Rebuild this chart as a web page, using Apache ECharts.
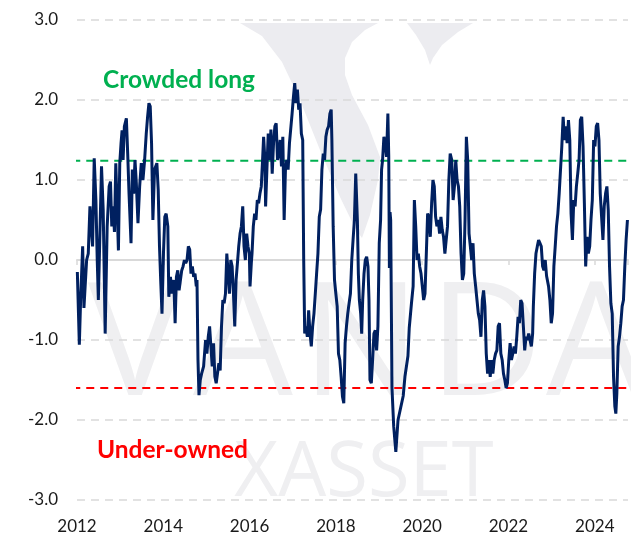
<!DOCTYPE html>
<html>
<head>
<meta charset="utf-8">
<script src="https://cdn.jsdelivr.net/npm/echarts@6/dist/echarts.min.js"></script>
<style>
  html, body { margin: 0; padding: 0; background: #fff; }
  #chart { width: 631px; height: 537px; }
</style>
</head>
<body>
<div id="chart"></div>
<script>
// positioning score (decimal year, z-score)
const dates = [
  2012.008, 2012.054, 2012.084, 2012.131, 2012.161, 2012.223, 2012.261, 2012.300, 2012.338, 2012.361,
  2012.399, 2012.438, 2012.469, 2012.495, 2012.568, 2012.607, 2012.653, 2012.699, 2012.745, 2012.776,
  2012.806, 2012.837, 2012.868, 2012.899, 2012.929, 2012.960, 2012.991, 2013.021, 2013.045, 2013.068,
  2013.098, 2013.144, 2013.175, 2013.206, 2013.252, 2013.283, 2013.313, 2013.344, 2013.375, 2013.413,
  2013.452, 2013.490, 2013.528, 2013.567, 2013.605, 2013.636, 2013.667, 2013.697, 2013.728, 2013.759,
  2013.797, 2013.851, 2013.882, 2013.912, 2013.943, 2013.970, 2014.005, 2014.035, 2014.066, 2014.105,
  2014.128, 2014.166, 2014.197, 2014.243, 2014.274, 2014.304, 2014.335, 2014.366, 2014.397, 2014.427,
  2014.458, 2014.489, 2014.520, 2014.550, 2014.581, 2014.612, 2014.642, 2014.673, 2014.704, 2014.735,
  2014.765, 2014.781, 2014.804, 2014.827, 2014.857, 2014.888, 2014.934, 2014.980, 2015.011, 2015.042,
  2015.073, 2015.103, 2015.134, 2015.165, 2015.195, 2015.226, 2015.257, 2015.288, 2015.318, 2015.349,
  2015.380, 2015.410, 2015.441, 2015.472, 2015.503, 2015.533, 2015.564, 2015.595, 2015.626, 2015.656,
  2015.687, 2015.718, 2015.748, 2015.779, 2015.810, 2015.841, 2015.871, 2015.902, 2015.933, 2015.963,
  2015.994, 2016.010, 2016.040, 2016.056, 2016.086, 2016.117, 2016.148, 2016.179, 2016.209, 2016.240,
  2016.271, 2016.301, 2016.325, 2016.355, 2016.371, 2016.401, 2016.432, 2016.463, 2016.494, 2016.524,
  2016.555, 2016.586, 2016.616, 2016.647, 2016.678, 2016.709, 2016.739, 2016.770, 2016.801, 2016.831,
  2016.862, 2016.893, 2016.924, 2016.954, 2016.985, 2017.016, 2017.046, 2017.077, 2017.108, 2017.139,
  2017.169, 2017.200, 2017.231, 2017.254, 2017.277, 2017.308, 2017.338, 2017.369, 2017.400, 2017.430,
  2017.461, 2017.492, 2017.523, 2017.553, 2017.584, 2017.615, 2017.646, 2017.676, 2017.707, 2017.738,
  2017.768, 2017.799, 2017.830, 2017.861, 2017.891, 2017.907, 2017.937, 2017.968, 2017.999, 2018.030,
  2018.060, 2018.091, 2018.122, 2018.153, 2018.183, 2018.214, 2018.245, 2018.275, 2018.306, 2018.337,
  2018.368, 2018.398, 2018.429, 2018.460, 2018.498, 2018.521, 2018.544, 2018.575, 2018.598, 2018.621,
  2018.652, 2018.682, 2018.713, 2018.744, 2018.767, 2018.790, 2018.821, 2018.851, 2018.882, 2018.913,
  2018.944, 2018.974, 2019.005, 2019.036, 2019.059, 2019.082, 2019.113, 2019.143, 2019.174, 2019.205,
  2019.225, 2019.240, 2019.255, 2019.270, 2019.300, 2019.340, 2019.389, 2019.440, 2019.500, 2019.560,
  2019.600, 2019.670, 2019.700, 2019.750, 2019.790, 2019.819, 2019.850, 2019.881, 2019.911, 2019.942,
  2019.973, 2020.003, 2020.034, 2020.065, 2020.096, 2020.126, 2020.157, 2020.188, 2020.219, 2020.249,
  2020.280, 2020.311, 2020.341, 2020.372, 2020.403, 2020.434, 2020.464, 2020.495, 2020.526, 2020.556,
  2020.587, 2020.618, 2020.649, 2020.686, 2020.717, 2020.748, 2020.778, 2020.809, 2020.840, 2020.870,
  2020.901, 2020.932, 2020.963, 2020.993, 2021.024, 2021.055, 2021.086, 2021.116, 2021.147, 2021.178,
  2021.208, 2021.239, 2021.270, 2021.301, 2021.331, 2021.362, 2021.393, 2021.423, 2021.454, 2021.485,
  2021.516, 2021.546, 2021.577, 2021.608, 2021.638, 2021.669, 2021.700, 2021.731, 2021.761, 2021.792,
  2021.823, 2021.854, 2021.884, 2021.915, 2021.946, 2021.976, 2022.007, 2022.038, 2022.069, 2022.099,
  2022.130, 2022.161, 2022.192, 2022.222, 2022.253, 2022.284, 2022.314, 2022.345, 2022.376, 2022.407,
  2022.437, 2022.468, 2022.499, 2022.530, 2022.560, 2022.576, 2022.606, 2022.637, 2022.668, 2022.698,
  2022.729, 2022.760, 2022.791, 2022.821, 2022.852, 2022.883, 2022.929, 2022.960, 2022.991, 2023.021,
  2023.052, 2023.083, 2023.113, 2023.144, 2023.175, 2023.206, 2023.236, 2023.267, 2023.298, 2023.328,
  2023.359, 2023.390, 2023.421, 2023.451, 2023.482, 2023.513, 2023.544, 2023.574, 2023.605, 2023.636,
  2023.666, 2023.697, 2023.728, 2023.759, 2023.789, 2023.820, 2023.851, 2023.882, 2023.912, 2023.943,
  2023.974, 2024.004, 2024.035, 2024.066, 2024.097, 2024.127, 2024.158, 2024.189, 2024.219, 2024.250,
  2024.281, 2024.312, 2024.342, 2024.373, 2024.404, 2024.435, 2024.465, 2024.488, 2024.511, 2024.542,
  2024.573, 2024.604, 2024.634, 2024.665, 2024.696, 2024.726, 2024.757
];
const scores = [
  -0.15, -1.06, -0.50, 0.17, -0.60, 0.00, 0.08, 0.67, 0.69, 0.17,
  1.27, 0.75, 0.00, -0.50, 1.17, 0.63, -0.92, 0.42, 0.92, 0.98,
  0.42, 0.67, 0.35, 1.21, 0.67, 0.12, 1.21, 1.46, 1.62, 1.25,
  1.67, 1.77, 1.33, 0.83, 0.21, 1.13, 0.83, 1.25, 0.96, 0.46,
  0.92, 1.21, 1.00, 1.25, 1.58, 1.79, 1.96, 1.92, 1.46, 0.50,
  1.13, 1.21, 0.88, 0.17, -0.30, -0.67, 0.10, 0.54, 0.58, 0.42,
  -0.46, -0.21, -0.42, -0.25, -0.79, -0.21, -0.13, -0.38, -0.25, -0.13,
  -0.08, 0.00, -0.04, 0.00, 0.17, 0.13, -0.17, -0.08, -0.21, -0.17,
  -0.33, -0.25, -1.25, -1.69, -1.50, -1.42, -1.33, -1.00, -1.17, -0.96,
  -0.83, -1.08, -1.33, -1.04, -1.46, -1.54, -1.56, -1.29, -1.38, -0.83,
  -0.50, -0.54, -0.42, 0.08, -0.17, -0.42, 0.00, -0.08, -0.42, -0.83,
  -0.25, -0.04, 0.17, 0.33, 0.42, 0.67, 0.17, 0.00, 0.33, 0.17,
  0.08, -0.33, -0.04, 0.08, 0.42, 0.58, 0.50, 0.75, 0.71, 0.83,
  0.92, 1.25, 1.54, 1.25, 0.67, 1.13, 1.58, 1.25, 1.63, 1.08,
  1.46, 1.67, 1.71, 1.25, 1.33, 1.50, 1.17, 1.54, 0.50, 1.13,
  1.25, 1.13, 1.46, 1.46, 1.83, 2.04, 2.21, 1.96, 2.13, 1.88,
  1.96, 1.58, 1.50, 0.00, -0.92, -0.83, -0.96, -0.63, -0.92, -1.08,
  -0.83, -0.67, -0.42, -0.17, 0.08, 0.54, 0.63, 1.13, 1.33, 1.25,
  1.54, 1.63, 1.67, 1.83, 1.88, 1.50, 0.42, -0.25, -0.42, -0.58,
  -1.17, -1.25, -1.46, -1.71, -1.79, -1.04, -0.83, -0.67, -0.54, -0.42,
  0.00, 0.25, 0.50, 1.08, 0.50, -0.17, -0.50, -0.67, -0.92, -0.50,
  -0.17, 0.00, 0.04, -0.08, -0.50, -1.50, -1.54, -1.25, -0.92, -0.88,
  -1.13, -0.83, 0.21, 0.50, 1.13, 1.25, 1.54, 1.46, 1.29, 1.83,
  1.30, -0.10, 0.60, 0.50, -1.60, -2.08, -2.40, -2.00, -1.85, -1.70,
  -1.46, -1.20, -0.85, -0.55, -0.33, 0.75, 0.42, 0.00, 0.08, -0.08,
  -0.17, -0.33, -0.50, -0.42, 0.08, 0.58, 0.54, 0.29, 0.71, 1.00,
  0.92, 0.54, 0.42, 0.50, 0.33, 0.54, 0.38, 0.29, 0.08, 0.25,
  0.42, 1.00, 1.33, 1.25, 0.75, 0.92, 1.25, 1.00, 0.92, 0.67,
  0.08, -0.25, -0.17, 0.50, 1.54, 1.25, 0.33, 0.17, 0.00, 0.21,
  -0.17, -0.33, -0.50, -0.67, -0.75, -0.96, -0.50, -0.38, -0.58, -1.17,
  -1.42, -1.25, -1.46, -1.25, -1.42, -1.25, -1.17, -1.13, -0.83, -0.79,
  -1.17, -1.25, -1.42, -1.50, -1.60, -1.54, -1.25, -1.04, -1.25, -1.17,
  -1.08, -1.17, -0.96, -0.71, -0.79, -0.50, -0.54, -0.83, -1.13, -0.96,
  -1.00, -0.92, -1.00, -1.08, -0.92, -0.58, -0.17, 0.08, 0.17, 0.25,
  0.21, 0.17, -0.08, -0.13, 0.00, -0.20, -0.33, -0.50, -0.79, -0.67,
  -0.08, 0.17, 0.42, 0.58, 0.83, 1.13, 1.42, 1.79, 1.50, 1.67,
  1.46, 1.75, 1.50, 0.58, 0.25, 0.75, 0.67, 0.92, 1.08, 1.25,
  1.75, 1.79, 1.42, 0.71, -0.08, 0.29, 0.08, 0.17, 0.50, 0.75,
  1.50, 1.42, 1.67, 1.71, 1.50, 0.83, 0.54, 0.25, 0.67, 0.83,
  0.92, 0.63, -0.08, -0.54, -0.67, -1.46, -1.83, -1.92, -1.67, -1.08,
  -0.96, -0.79, -0.58, -0.50, -0.08, 0.25, 0.50
];
const crowdedLong = 1.24;
const underOwned = -1.6;
const xStart = 2012;
const xEnd = 2024.77;

const chart = echarts.init(document.getElementById('chart'));
const font = 'Lato, "Open Sans", sans-serif';
const mark = '#efeff1';

let seriesData = dates.map(function (d, i) { return [d, scores[i]]; });

// the vanda letters of the watermark, one by one
let wm = [];
[['V', 135], ['A', 243], ['N', 361], ['D', 486], ['A', 596]].forEach(function (item) {
  wm.push({
    type: 'text', x: item[1], y: 350, z: -10, silent: true,
    style: { text: item[0], fill: mark, font: '158px "Open Sans", sans-serif',
      textAlign: 'center', textVerticalAlign: 'middle', align: 'center', verticalAlign: 'middle' }
  });
});
wm.push({
  type: 'text', x: 364, y: 474, z: -10, silent: true,
  style: { text: 'XASSET', fill: mark, font: '76px "Open Sans", sans-serif',
    textAlign: 'center', textVerticalAlign: 'middle', align: 'center', verticalAlign: 'middle' }
});
// logo "V" at the top
wm.push({
  type: 'polygon', z: -10, silent: true,
  shape: { points: [[240, 23], [262, 36], [282, 62], [300, 100], [320, 150], [340, 197], [355, 228], [362, 238],
    [370, 215], [378, 180], [380, 157], [368, 125], [352, 95], [345, 75], [345, 58], [352, 42], [365, 30], [378, 23]] },
  style: { fill: '#ececf0' }
});
wm.push({
  type: 'polygon', z: -10, silent: true,
  shape: { points: [[407, 23], [473, 23], [458, 32], [442, 45], [433, 58], [430, 65], [425, 50], [416, 35]] },
  style: { fill: '#ececf0' }
});

let option = {
  animation: false,
  backgroundColor: '#fff',
  grid: { left: 77, right: 0, top: 20, bottom: 37 },
  graphic: wm,
  xAxis: [{
    type: 'value', min: xStart, max: xEnd, interval: 2, position: 'bottom',
    axisLine: { show: false, onZero: false },
    axisTick: { show: false },
    splitLine: { show: false },
    axisLabel: {
      color: '#1a1a1a', fontSize: 17, fontFamily: font, margin: 18,
      formatter: function (v) { return v % 1 === 0 ? String(v) : ''; }
    }
  }, {
    type: 'value', min: xStart, max: xEnd, interval: 2, position: 'bottom',
    axisLine: { show: true, onZero: true, lineStyle: { color: '#d9d9d9', width: 2 } },
    axisTick: { show: true, length: 5, lineStyle: { color: '#d9d9d9', width: 1.5 } },
    splitLine: { show: false },
    axisLabel: { show: false }
  }],
  yAxis: {
    type: 'value', min: -3, max: 3, interval: 1,
    axisLine: { show: false }, axisTick: { show: false },
    axisLabel: {
      color: '#1a1a1a', fontSize: 17, fontFamily: font, margin: 19,
      formatter: function (v) { return v.toFixed(1); }
    },
    splitLine: { lineStyle: { color: '#d9d9d9', width: 1.5, type: [8, 6] } }
  },
  series: [{
    type: 'line', xAxisIndex: 0, data: seriesData, symbol: 'none', z: 5,
    lineStyle: { color: '#002060', width: 3 }
  }, {
    type: 'line', xAxisIndex: 0, symbol: 'none', clip: false, silent: true, z: 4,
    data: [[2011.89, crowdedLong], [xEnd, crowdedLong]],
    lineStyle: { color: '#00b050', width: 2, type: [8, 6] }
  }, {
    type: 'line', xAxisIndex: 0, symbol: 'none', clip: false, silent: true, z: 4,
    data: [[2011.89, underOwned], [xEnd, underOwned]],
    lineStyle: { color: '#ff0000', width: 2, type: [8, 6] }
  }],
  title: [{
    text: 'Crowded long', left: 98, top: 63,
    textStyle: { color: '#00b050', fontSize: 24.5, fontWeight: 'bold', fontFamily: font }
  }, {
    text: 'Under-owned', left: 92, top: 433,
    textStyle: { color: '#ff0000', fontSize: 24.5, fontWeight: 'bold', fontFamily: font }
  }]
};

chart.setOption(option);
</script>
</body>
</html>
